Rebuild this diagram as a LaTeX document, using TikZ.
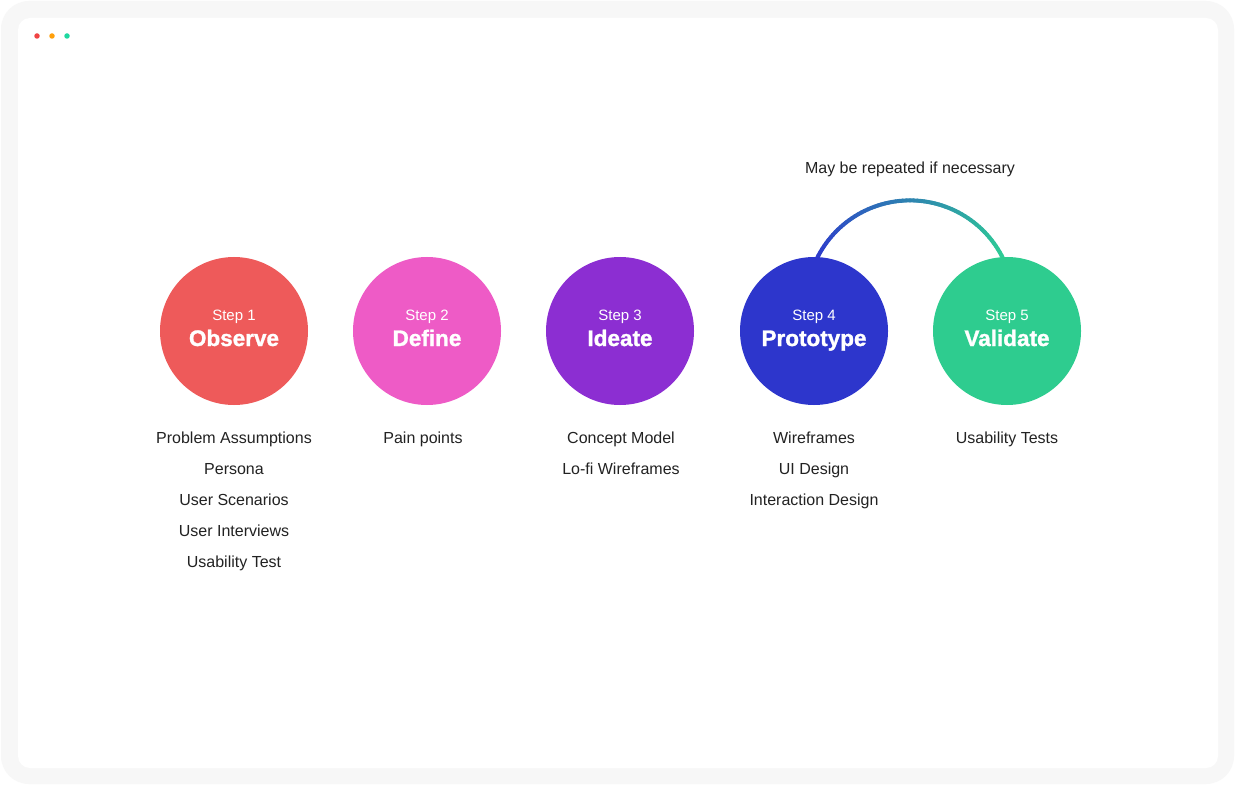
\documentclass[tikz,border=0pt]{standalone}
\usepackage{fontspec}
\setmainfont{Liberation Sans}
\newfontfamily\heavyfont[FakeBold=1.3]{Liberation Sans}
\definecolor{frame}{HTML}{F7F7F7}
\definecolor{cred}{HTML}{EE5A5A}
\definecolor{cpink}{HTML}{EE5BC6}
\definecolor{cpurple}{HTML}{8C2ED2}
\definecolor{cblue}{HTML}{2D36CC}
\definecolor{cgreen}{HTML}{2ECC8F}
\definecolor{txt}{HTML}{222222}
\definecolor{dotr}{HTML}{F04444}
\definecolor{doto}{HTML}{FF9F0A}
\definecolor{dotg}{HTML}{1ED8A0}
\definecolor{arcB}{HTML}{2D3ACC}
\definecolor{arcG}{HTML}{2ECC96}
\tikzset{
  stepcircle/.style={circle, minimum size=148pt, inner sep=0pt, draw=none},
  steplabel/.style={text=white, anchor=base, font=\fontsize{15}{18}\selectfont},
  steptitle/.style={text=white, anchor=base, font=\fontsize{22.5}{26}\heavyfont\bfseries\selectfont},
  itemtext/.style={text=txt, anchor=base, font=\fontsize{16}{19}\selectfont, inner sep=0pt},
  dot/.style={circle, minimum size=5.5pt, inner sep=0pt}
}
\begin{document}
\begin{tikzpicture}[x=1pt,y=-1pt]
\useasboundingbox (0,0) rectangle (1236,786);
\fill[white] (0,0) rectangle (1236,786);
\fill[frame, rounded corners=28pt] (1,1) rectangle (1234,784);
\fill[white, rounded corners=12pt] (18,18) rectangle (1218,768);
% window dots
\node[dot, fill=dotr] (d1) at (37,36) {};
\node[dot, fill=doto] (d2) at (52,36) {};
\node[dot, fill=dotg] (d3) at (67,36) {};
% arc (gradient) from step 4 to step 5
\coordinate (a4) at ({910+103.6*cos(154)},{304-103.6*sin(154)});
\coordinate (a5) at ({910+103.6*cos(26)},{304-103.6*sin(26)});
\foreach \i in {0,...,63}{
  \pgfmathsetmacro{\aa}{154-\i*2}
  \pgfmathsetmacro{\ab}{154-(\i+1)*2}
  \pgfmathsetmacro{\pp}{100*\i/63}
  \colorlet{segc}{arcG!\pp!arcB}
  \draw[segc, line width=4pt, line cap=round]
    ({910+103.6*cos(\aa)},{304-103.6*sin(\aa)}) -- ({910+103.6*cos(\ab)},{304-103.6*sin(\ab)});
}
\node[text=txt, anchor=base, font=\fontsize{16}{19}\selectfont] (note) at (910,174) {May be repeated if necessary};
% circles
\node[stepcircle, fill=cred] (s1) at (234,331) {};
\node[stepcircle, fill=cpink] (s2) at (427,331) {};
\node[stepcircle, fill=cpurple] (s3) at (620,331) {};
\node[stepcircle, fill=cblue] (s4) at (814,331) {};
\node[stepcircle, fill=cgreen] (s5) at (1007,331) {};
% labels
\node[steplabel] (s1a) at (234,320.5) {Step 1};
\node[steptitle] (s1b) at (234,346) {Observe};
\node[steplabel] (s2a) at (427,320.5) {Step 2};
\node[steptitle] (s2b) at (427,346) {Define};
\node[steplabel] (s3a) at (620,320.5) {Step 3};
\node[steptitle] (s3b) at (620,346) {Ideate};
\node[steplabel] (s4a) at (814,320.5) {Step 4};
\node[steptitle] (s4b) at (814,346) {Prototype};
\node[steplabel] (s5a) at (1007,320.5) {Step 5};
\node[steptitle] (s5b) at (1007,346) {Validate};
% lists
\node[itemtext] (i11) at (234,443) {Problem Assumptions};
\node[itemtext] (i12) at (234,474) {Persona};
\node[itemtext] (i13) at (234,505) {User Scenarios};
\node[itemtext] (i14) at (234,536) {User Interviews};
\node[itemtext] (i15) at (234,567) {Usability Test};
\node[itemtext] (i21) at (423,443) {Pain points};
\node[itemtext] (i31) at (621,443) {Concept Model};
\node[itemtext] (i32) at (621,474) {Lo-fi Wireframes};
\node[itemtext] (i41) at (814,443) {Wireframes};
\node[itemtext] (i42) at (814,474) {UI Design};
\node[itemtext] (i43) at (814,505) {Interaction Design};
\node[itemtext] (i51) at (1007,443) {Usability Tests};
\end{tikzpicture}
\end{document}
